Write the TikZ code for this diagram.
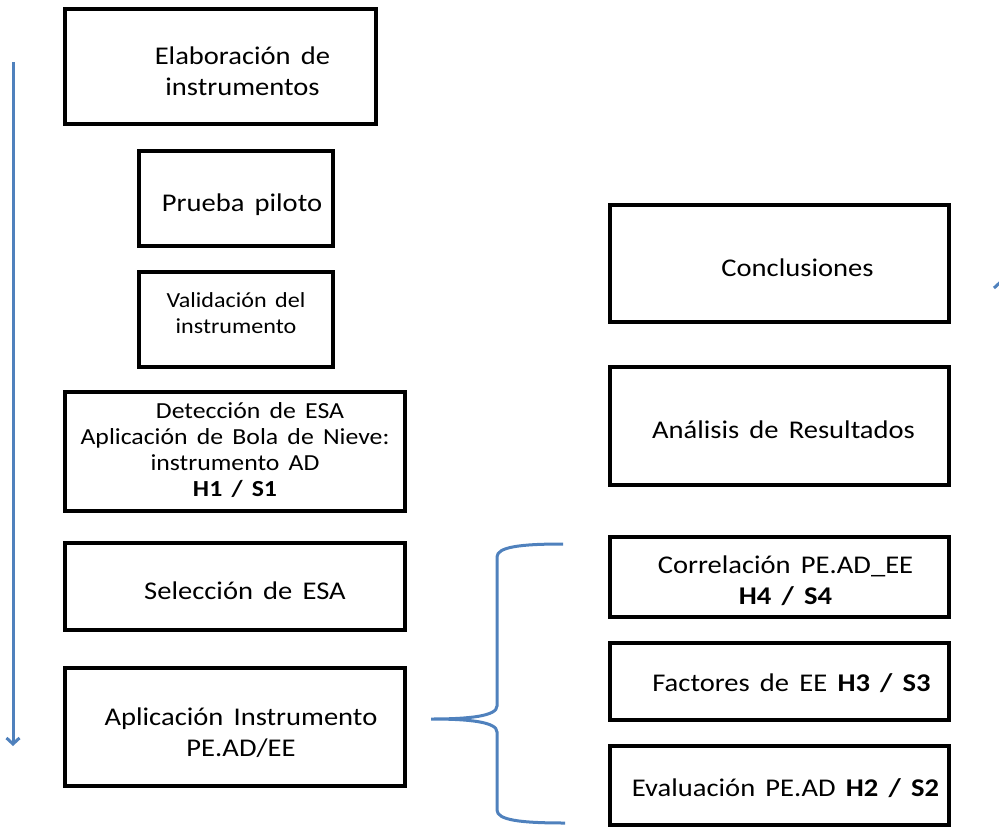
\documentclass[tikz,border=0pt]{standalone}
\usepackage{fontspec}
\setmainfont{Carlito}[FakeStretch=1.12]
\usetikzlibrary{arrows.meta}
\definecolor{flowblue}{HTML}{4F81BD}
% text size with slightly wider word gaps
\newcommand{\boxfont}[2]{\fontsize{#1}{#2}\selectfont\spaceskip=0.4em plus 0.1em\relax}
\begin{document}
\begin{tikzpicture}[x=1pt,y=-1pt,
  stepbox/.style={draw=black, line width=3.2pt, inner sep=0pt},
  boxtext/.style={align=center, inner sep=0pt, font=\boxfont{25.5}{31}},
  smalltext/.style={font=\boxfont{21.5}{26}},
  midtext/.style={font=\boxfont{23}{26}},
  flowline/.style={draw=flowblue, line width=3pt},
  flowarrow/.style={flowline, -{Straight Barb[length=6pt,width=13pt,line width=3pt]}},
]
\useasboundingbox (0,0) rectangle (999,827);

% left column of steps
\node[stepbox, minimum width=311, minimum height=115] (elab) at (220.5,66.5) {};
\node[stepbox, minimum width=194, minimum height=95] (piloto) at (236,198.5) {};
\node[stepbox, minimum width=194, minimum height=95] (valid) at (236,319.5) {};
\node[stepbox, minimum width=340, minimum height=119] (detec) at (235,451.5) {};
\node[stepbox, minimum width=340, minimum height=87] (selec) at (235,586.5) {};
\node[stepbox, minimum width=340, minimum height=118] (aplic) at (235,727) {};

\node[boxtext] (elabT) at ([shift={(22,5)}]elab.center) {Elaboración de\\instrumentos};
\node[boxtext] (pilotoT) at ([shift={(6,6)}]piloto.center) {Prueba piloto};
\node[boxtext, smalltext] (validT) at ([shift={(0,-6)}]valid.center) {Validación del\\instrumento};
\node[boxtext, midtext] (detecT) at ([shift={(0,-1)}]detec.center)
  {\hspace*{30pt}Detección de ESA\\Aplicación de Bola de Nieve:\\instrumento AD\\\textbf{H1 / S1}};
\node[boxtext] (selecT) at ([shift={(10,4)}]selec.center) {Selección de ESA};
\node[boxtext] (aplicT) at ([shift={(6,6)}]aplic.center) {Aplicación Instrumento\\PE.AD/EE};

% right column of results
\node[stepbox, minimum width=339, minimum height=117] (concl) at (779.5,263.5) {};
\node[stepbox, minimum width=339, minimum height=118] (anal) at (779.5,426) {};
\node[stepbox, minimum width=339, minimum height=80] (corr) at (779.5,577) {};
\node[stepbox, minimum width=339, minimum height=77] (fact) at (779.5,681.5) {};
\node[stepbox, minimum width=339, minimum height=79] (eval) at (779.5,785.5) {};

\node[boxtext] (conclT) at ([shift={(18,4)}]concl.center) {Conclusiones};
\node[boxtext] (analT) at ([shift={(4,4)}]anal.center) {Análisis de Resultados};
\node[boxtext] (corrT) at ([shift={(6,4)}]corr.center) {Correlación PE.AD\_EE\\\textbf{H4 / S4}};
\node[boxtext] (factT) at ([shift={(12,2)}]fact.center) {Factores de EE \textbf{H3 / S3}};
\node[boxtext] (evalT) at ([shift={(6,3)}]eval.center) {Evaluación PE.AD \textbf{H2 / S2}};

% process arrows along the edges
\coordinate (lstart) at (13,62);
\coordinate (lend) at (13,746);
\draw[flowarrow] (lstart) -- (lend);
\coordinate (rstart) at (1000.5,600);
\coordinate (rend) at (1000.5,280);
\draw[flowarrow] (rstart) -- (rend);

% brace grouping the three analyses
\coordinate (btop) at (563,544);
\coordinate (btip) at (431,719);
\coordinate (bbot) at (565,823);
\draw[flowline]
  (btop) .. controls (520,544) and (497,547) .. (497,557)
  -- (497,706) .. controls (497,716) and (470,719) .. (btip)
  .. controls (470,719) and (497,722) .. (497,732)
  -- (497,810) .. controls (497,820) and (520,823) .. (bbot);
\end{tikzpicture}
\end{document}
